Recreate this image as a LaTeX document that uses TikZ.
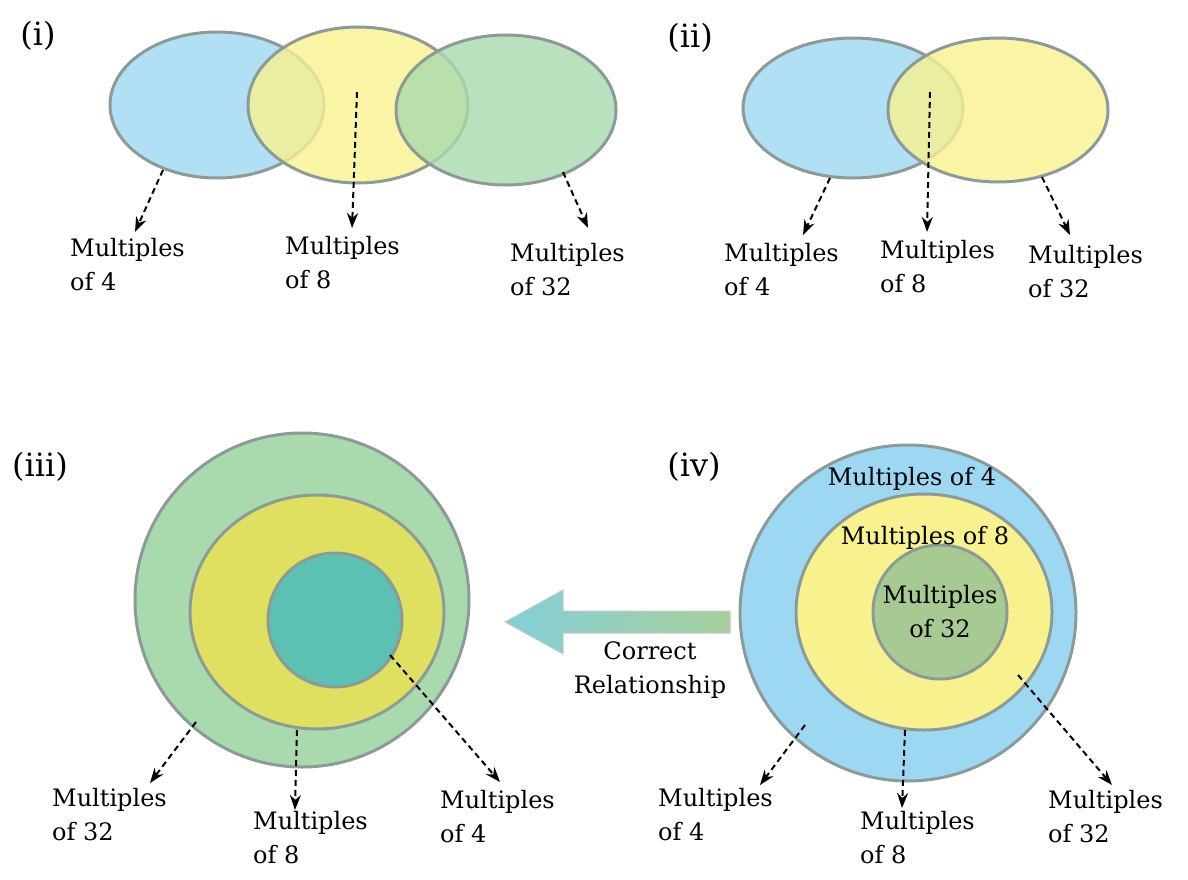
\documentclass[tikz,border=0pt]{standalone}
\usepackage{fontspec}
\setmainfont{DejaVu Serif}
\usetikzlibrary{arrows.meta}
\definecolor{cblue}{HTML}{9DD8F2}
\definecolor{cyel}{HTML}{F8F28E}
\definecolor{cgreen}{HTML}{A9DAAE}
\definecolor{cdyel}{HTML}{E0E060}
\definecolor{cteal}{HTML}{5CC1B3}
\definecolor{cmoss}{HTML}{A6CA92}
\definecolor{cedge}{HTML}{8C9A98}
\tikzset{
  set/.style={draw=cedge, line width=3pt, fill opacity=0.8},
  lbl/.style={align=left, font=\fontsize{24}{34}\selectfont, inner sep=0pt},
  pnl/.style={font=\fontsize{32}{36}\selectfont},
  ptr/.style={dashed, line width=2pt, dash pattern=on 6pt off 4pt, -{Stealth[length=15pt,width=11pt]}}
}
\begin{document}
\begin{tikzpicture}[x=1pt,y=-1pt]
\useasboundingbox (0,0) rectangle (1188,880);
% panel (i)
\node[pnl] (p1) at (38,36) {(i)};
\draw[set, fill=cblue] (217,105) ellipse [x radius=107, y radius=73];
\draw[set, fill=cyel] (358,105) ellipse [x radius=110, y radius=78];
\draw[set, fill=cgreen] (506,110) ellipse [x radius=110, y radius=75];
\node[lbl, anchor=north west] (a1) at (70,238) {Multiples\\of 4};
\node[lbl, anchor=north west] (a2) at (285,236) {Multiples\\of 8};
\node[lbl, anchor=north west] (a3) at (510,243) {Multiples\\of 32};
\coordinate (s1) at (163,170); \coordinate (s2) at (357,92); \coordinate (s3) at (563,172);
\draw[ptr] (s1) -- (135,232);
\draw[ptr] (s2) -- (352,228);
\draw[ptr] (s3) -- (588,228);
% panel (ii)
\node[pnl] (p2) at (690,38) {(ii)};
\draw[set, fill=cblue] (853,108) ellipse [x radius=110, y radius=70];
\draw[set, fill=cyel] (998,110) ellipse [x radius=110, y radius=72];
\node[lbl, anchor=north west] (b1) at (724,243) {Multiples\\of 4};
\node[lbl, anchor=north west] (b2) at (880,240) {Multiples\\of 8};
\node[lbl, anchor=north west] (b3) at (1028,245) {Multiples\\of 32};
\coordinate (t1) at (830,178); \coordinate (t2) at (930,92); \coordinate (t3) at (1042,177);
\draw[ptr] (t1) -- (803,235);
\draw[ptr] (t2) -- (927,232);
\draw[ptr] (t3) -- (1070,235);
% panel (iii)
\node[pnl] (p3) at (40,467) {(iii)};
\draw[set, fill=cgreen, fill opacity=1] (302,600) circle [radius=167];
\draw[set, fill=cdyel, fill opacity=1] (317,612) ellipse [x radius=127, y radius=117];
\draw[set, fill=cteal, fill opacity=1] (335,620) circle [radius=67];
\node[lbl, anchor=north west] (c1) at (52,788) {Multiples\\of 32};
\node[lbl, anchor=north west] (c2) at (253,811) {Multiples\\of 8};
\node[lbl, anchor=north west] (c3) at (440,790) {Multiples\\of 4};
\coordinate (u1) at (196,722); \coordinate (u2) at (297,730); \coordinate (u3) at (390,655);
\draw[ptr] (u1) -- (150,783);
\draw[ptr] (u2) -- (295,810);
\draw[ptr] (u3) -- (500,782);
% panel (iv)
\node[pnl] (p4) at (694,467) {(iv)};
\draw[set, fill=cblue, fill opacity=1] (908,613) circle [radius=168];
\draw[set, fill=cyel, fill opacity=1] (924,612) ellipse [x radius=128, y radius=118];
\draw[set, fill=cmoss, fill opacity=1] (940,612) circle [radius=67];
\node[lbl] (i1) at (912,479) {Multiples of 4};
\node[lbl] (i2) at (925,538) {Multiples of 8};
\node[lbl, align=center] (i3) at (940,612) {Multiples\\of 32};
\node[lbl, anchor=north west] (d1) at (658,788) {Multiples\\of 4};
\node[lbl, anchor=north west] (d2) at (860,811) {Multiples\\of 8};
\node[lbl, anchor=north west] (d3) at (1048,790) {Multiples\\of 32};
\coordinate (v1) at (805,725); \coordinate (v2) at (905,730); \coordinate (v3) at (1018,675);
\draw[ptr] (v1) -- (760,785);
\draw[ptr] (v2) -- (902,808);
\draw[ptr] (v3) -- (1112,785);
% relationship arrow
\shade[left color=cteal!40!cblue, right color=cmoss!70!cgreen, draw=cedge!50, line width=1pt]
  (730,611) -- (563,611) -- (563,590) -- (505,622) -- (563,654) -- (563,633) -- (730,633) -- cycle;
\node[lbl, align=center] (rel) at (650,670) {Correct\\Relationship};
\end{tikzpicture}
\end{document}
